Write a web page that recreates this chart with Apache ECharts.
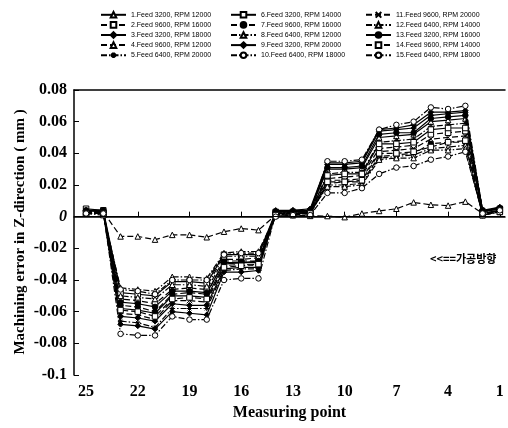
<!DOCTYPE html>
<html>
<head>
<meta charset="utf-8">
<script src="https://cdn.jsdelivr.net/npm/echarts@6/dist/echarts.min.js"></script>
<style>
  html, body { margin: 0; padding: 0; background: #fff; }
  #chart { width: 508px; height: 428px; }
</style>
</head>
<body>
<div id="chart"></div>
<script>
// measuring points, left to right (machining goes from 25 toward 1)
const points = [25, 24, 23, 22, 21, 20, 19, 18, 17, 16, 15, 14, 13, 12, 11, 10, 9, 8, 7, 6, 5, 4, 3, 2, 1];
const xTicks = [25, 22, 19, 16, 13, 10, 7, 4, 1];

const seriesNames = [
  "1.Feed 3200, RPM 12000",
  "2.Feed 9600, RPM 16000",
  "3.Feed 3200, RPM 18000",
  "4.Feed 9600, RPM 12000",
  "5.Feed 6400, RPM 20000",
  "6.Feed 3200, RPM 14000",
  "7.Feed 9600, RPM 16000",
  "8.Feed 6400, RPM 12000",
  "9.Feed 3200, RPM 20000",
  "10.Feed 6400, RPM 18000",
  "11.Feed 9600, RPM 20000",
  "12.Feed 6400, RPM 14000",
  "13.Feed 3200, RPM 16000",
  "14.Feed 9600, RPM 14000",
  "15.Feed 6400, RPM 18000",
];

// Z-direction error (mm) per measuring point
const err1 = [0.004, 0.003, -0.058, -0.059, -0.061, -0.050, -0.050, -0.051, -0.030, -0.029, -0.029, 0.003, 0.003, 0.004, 0.030, 0.030, 0.031, 0.050, 0.051, 0.052, 0.060, 0.061, 0.062, 0.004, 0.005];
const err2 = [0.002, 0.002, -0.052, -0.053, -0.055, -0.046, -0.045, -0.046, -0.027, -0.027, -0.026, 0.002, 0.002, 0.003, 0.024, 0.025, 0.026, 0.043, 0.044, 0.045, 0.052, 0.053, 0.054, 0.002, 0.004];
const err3 = [0.004, 0.004, -0.063, -0.064, -0.066, -0.055, -0.056, -0.056, -0.033, -0.032, -0.032, 0.003, 0.004, 0.004, 0.033, 0.033, 0.034, 0.054, 0.055, 0.056, 0.064, 0.065, 0.066, 0.003, 0.006];
const err4 = [0.003, 0.003, -0.0125, -0.0125, -0.0145, -0.0115, -0.0115, -0.013, -0.0095, -0.0075, -0.0085, 0.001, 0.001, 0.0005, 0.0004, -0.0003, 0.002, 0.0036, 0.005, 0.009, 0.0075, 0.007, 0.0095, 0.002, 0.004];
const err5 = [0.003, 0.002, -0.066, -0.067, -0.070, -0.058, -0.058, -0.058, -0.034, -0.033, -0.033, 0.002, 0.003, 0.003, 0.027, 0.028, 0.028, 0.047, 0.048, 0.049, 0.057, 0.058, 0.059, 0.003, 0.005];
const err6 = [0.005, 0.004, -0.048, -0.049, -0.050, -0.041, -0.041, -0.042, -0.024, -0.024, -0.024, 0.003, 0.003, 0.003, 0.026, 0.027, 0.027, 0.046, 0.046, 0.047, 0.055, 0.056, 0.056, 0.003, 0.005];
const err7 = [0.003, 0.003, -0.056, -0.057, -0.060, -0.049, -0.048, -0.049, -0.028, -0.028, -0.028, 0.002, 0.002, 0.002, 0.021, 0.022, 0.022, 0.038, 0.039, 0.040, 0.046, 0.047, 0.047, 0.001, 0.003];
const err8 = [0.002, 0.001, -0.045, -0.046, -0.047, -0.038, -0.038, -0.039, -0.023, -0.022, -0.022, 0.001, 0.002, 0.002, 0.020, 0.020, 0.021, 0.037, 0.038, 0.039, 0.043, 0.044, 0.045, 0.001, 0.004];
const err9 = [0.004, 0.003, -0.068, -0.069, -0.071, -0.060, -0.061, -0.062, -0.035, -0.035, -0.034, 0.004, 0.004, 0.005, 0.034, 0.034, 0.035, 0.055, 0.056, 0.058, 0.066, 0.066, 0.067, 0.004, 0.006];
const err10 = [0.003, 0.003, -0.074, -0.075, -0.075, -0.063, -0.065, -0.065, -0.040, -0.039, -0.039, 0.002, 0.003, 0.003, 0.035, 0.035, 0.036, 0.055, 0.058, 0.060, 0.069, 0.068, 0.070, 0.004, 0.005];
const err11 = [0.002, 0.003, -0.061, -0.062, -0.065, -0.053, -0.053, -0.054, -0.031, -0.030, -0.031, 0.001, 0.002, 0.002, 0.023, 0.023, 0.024, 0.041, 0.042, 0.043, 0.049, 0.050, 0.051, 0.002, 0.004];
const err12 = [0.003, 0.002, -0.050, -0.051, -0.052, -0.043, -0.043, -0.044, -0.025, -0.025, -0.025, 0.002, 0.002, 0.003, 0.019, 0.019, 0.020, 0.036, 0.037, 0.037, 0.042, 0.042, 0.043, 0.001, 0.003];
const err13 = [0.004, 0.004, -0.054, -0.055, -0.057, -0.047, -0.047, -0.048, -0.029, -0.029, -0.028, 0.003, 0.003, 0.004, 0.031, 0.031, 0.032, 0.052, 0.053, 0.053, 0.062, 0.063, 0.064, 0.004, 0.005];
const err14 = [0.002, 0.002, -0.059, -0.060, -0.063, -0.052, -0.051, -0.052, -0.032, -0.031, -0.030, 0.001, 0.001, 0.002, 0.022, 0.022, 0.023, 0.040, 0.040, 0.041, 0.044, 0.047, 0.048, 0.001, 0.003];
const err15 = [0.002, 0.002, -0.046, -0.047, -0.049, -0.040, -0.040, -0.040, -0.024, -0.023, -0.023, 0.000, 0.001, 0.001, 0.015, 0.015, 0.018, 0.027, 0.031, 0.032, 0.036, 0.038, 0.041, 0.002, 0.004];

const allErrors = [err1, err2, err3, err4, err5, err6, err7, err8, err9, err10, err11, err12, err13, err14, err15];

// feed 3200 -> solid, 9600 -> dashed, 6400 -> dash-dot
const DASH = { solid: "solid", dash: [6, 3], dashDot: [6, 2, 1.5, 2] };
const CROSS = "path://M0,0L10,10M0,10L10,0";
const STAR = "path://M5,0L5,10M0,5L10,5M1.5,1.5L8.5,8.5M1.5,8.5L8.5,1.5";

const STYLES = [
  { line: "solid", symbol: "triangle", open: true },
  { line: "dash", symbol: "rect", open: true },
  { line: "solid", symbol: "diamond", open: false },
  { line: "dash", symbol: "triangle", open: true },
  { line: "dashDot", symbol: STAR, open: false },
  { line: "solid", symbol: "rect", open: true },
  { line: "dash", symbol: "circle", open: false },
  { line: "dashDot", symbol: "triangle", open: true },
  { line: "solid", symbol: "diamond", open: false },
  { line: "dashDot", symbol: "circle", open: true },
  { line: "dash", symbol: CROSS, open: false },
  { line: "dashDot", symbol: "triangle", open: true },
  { line: "solid", symbol: "circle", open: false },
  { line: "dash", symbol: "rect", open: true },
  { line: "dashDot", symbol: "circle", open: true },
];

const SERIF = "'Liberation Serif', 'Times New Roman', serif";
const LEGEND_LEFT = [100, 230, 365];

function buildSeries(name, i) {
  const st = STYLES[i];
  return {
    name,
    type: "line",
    data: points.map((p, j) => [p, allErrors[i][j]]),
    symbol: st.symbol,
    symbolSize: 5.5,
    lineStyle: { color: "#000", width: 1.2, type: DASH[st.line] },
    itemStyle: { color: st.open ? "#fff" : "#000", borderColor: "#000", borderWidth: 1 },
    z: i === 0 ? 1 : 2,
    markLine: i === 0
      ? { silent: true, symbol: "none", label: { show: false }, lineStyle: { color: "#000", width: 1, type: "solid" }, data: [{ yAxis: 0 }] }
      : undefined,
  };
}

const chart = echarts.init(document.getElementById("chart"));
chart.setOption({
  animation: false,
  backgroundColor: "#fff",
  grid: { left: 74, right: 3, top: 90, bottom: 53 },
  legend: LEGEND_LEFT.map((left, c) => ({
    data: seriesNames.slice(c * 5, c * 5 + 5),
    orient: "vertical",
    left,
    top: 11,
    padding: 0,
    itemWidth: 25,
    itemHeight: 7,
    itemGap: 2.5,
    selectedMode: false,
    textStyle: { fontSize: 7, fontFamily: "'Liberation Sans', Arial, sans-serif", color: "#000" },
  })),
  xAxis: [
    {
      type: "value",
      inverse: true,
      min: 0.7,
      max: 25.7,
      name: "Measuring point",
      nameLocation: "middle",
      nameGap: 30,
      nameTextStyle: { fontFamily: SERIF, fontWeight: "bold", fontSize: 16, color: "#000" },
      axisLine: { lineStyle: { color: "#000", width: 1.5 } },
      axisTick: { inside: true, length: 5, customValues: xTicks, lineStyle: { color: "#000" } },
      axisLabel: { customValues: xTicks, margin: 9, fontFamily: SERIF, fontWeight: "bold", fontSize: 16, color: "#000" },
      splitLine: { show: false },
    },
    {
      type: "value",
      position: "top",
      inverse: true,
      min: 0.7,
      max: 25.7,
      axisLine: { lineStyle: { color: "#000", width: 1.5 } },
      axisTick: { show: false },
      axisLabel: { show: false },
      splitLine: { show: false },
    },
  ],
  yAxis: {
    type: "value",
    min: -0.1,
    max: 0.08,
    interval: 0.02,
    axisLine: { show: true, lineStyle: { color: "#000", width: 1.5 } },
    axisTick: { show: true, inside: true, length: 5, lineStyle: { color: "#000" } },
    axisLabel: {
      margin: 7,
      fontFamily: SERIF,
      fontWeight: "bold",
      fontSize: 16,
      color: "#000",
      formatter: (v) => {
        const s = String(Number(v.toFixed(2)));
        return s === "0" ? "{i|0}" : s;
      },
      rich: { i: { fontFamily: SERIF, fontWeight: "bold", fontStyle: "italic", fontSize: 16, color: "#000" } },
    },
    splitLine: { show: false },
  },
  graphic: [
    {
      // y axis title, placed by hand so it sits as close to the labels as in the original
      type: "text",
      x: 20,
      y: 232,
      rotation: Math.PI / 2,
      style: {
        text: "Machining error in Z-direction ( mm )",
        font: `bold 15px ${SERIF}`,
        fill: "#000",
        align: "center",
        verticalAlign: "middle",
      },
    },
    {
      type: "text",
      left: 430,
      top: 253,
      style: { text: "<<==가공방향", font: "bold 11px 'Noto Sans CJK KR', sans-serif", fill: "#000" },
    },
  ],
  series: seriesNames.map(buildSeries),
});
</script>
</body>
</html>
